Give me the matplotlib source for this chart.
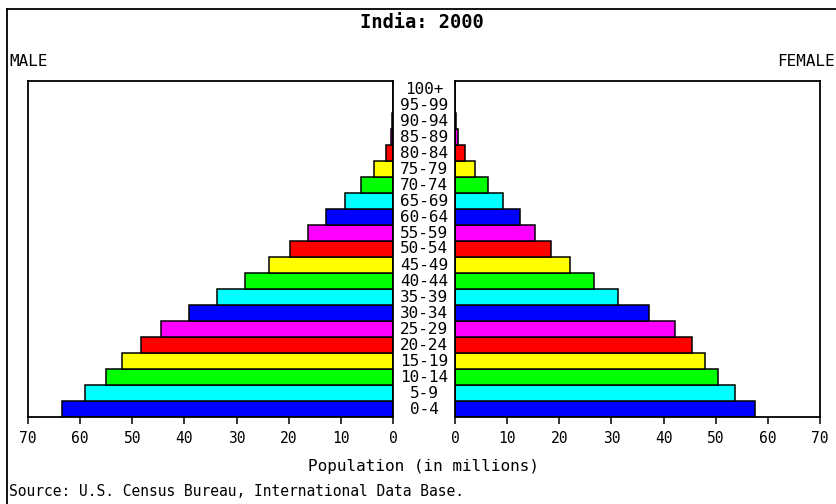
import matplotlib.pyplot as plt
from matplotlib.lines import Line2D
from matplotlib.transforms import blended_transform_factory

age_groups = ['0-4', '5-9', '10-14', '15-19', '20-24', '25-29', '30-34', '35-39',
              '40-44', '45-49', '50-54', '55-59', '60-64', '65-69', '70-74', '75-79',
              '80-84', '85-89', '90-94', '95-99', '100+']

male = [63.5, 59.0, 55.1, 51.9, 48.4, 44.5, 39.1, 33.7, 28.4, 23.7, 19.8,
        16.3, 12.8, 9.3, 6.1, 3.6, 1.3, 0.4, 0.1, 0.02, 0.0]
female = [57.6, 53.7, 50.5, 48.0, 45.4, 42.2, 37.2, 31.3, 26.6, 22.1, 18.5,
          15.4, 12.5, 9.2, 6.3, 3.8, 1.9, 0.6, 0.15, 0.03, 0.0]

cycle = ['#0000ff', '#00ffff', '#00ff00', '#ffff00', '#ff0000', '#ff00ff']
ticks = [0, 10, 20, 30, 40, 50, 60, 70]

W, H = 837, 504
mono = 'DejaVu Sans Mono'

fig = plt.figure(figsize=(W / 100, H / 100), dpi=100)
fig.patch.set_facecolor('white')


def fx(px):
    return px / W


def fy(py):
    return 1 - py / H


ax_l = fig.add_axes([fx(28), fy(417), fx(393) - fx(28), fy(81) - fy(417)])
ax_r = fig.add_axes([fx(455), fy(417), fx(820) - fx(455), fy(81) - fy(417)])

colors = [cycle[i % len(cycle)] for i in range(len(age_groups))]
pos = list(range(len(age_groups)))

ax_l.barh(pos, male, height=1.0, color=colors, edgecolor='black', linewidth=1.1)
ax_r.barh(pos, female, height=1.0, color=colors, edgecolor='black', linewidth=1.1)

for ax in (ax_l, ax_r):
    ax.set_ylim(-0.5, len(age_groups) - 0.5)
    ax.set_yticks([])
    ax.set_xticks(ticks)
    ax.set_xticklabels([str(t) for t in ticks], family=mono, fontsize=10.5)
    ax.tick_params(axis='x', direction='out', length=5, width=1.1, pad=5)
    for s in ax.spines.values():
        s.set_linewidth(1.3)
ax_l.set_xlim(70, 0)
ax_r.set_xlim(0, 70)

# age labels between the two halves
tr = blended_transform_factory(fig.transFigure, ax_l.transData)
for p, lab in zip(pos, age_groups):
    ax_l.text(fx(424), p, lab, transform=tr, ha='center', va='center',
              family=mono, fontsize=11.5, clip_on=False)

fig.text(fx(422), fy(22), 'India: 2000', ha='center', va='center',
         family=mono, fontsize=13.5, fontweight='bold')
fig.text(fx(9), fy(62), 'MALE', ha='left', va='center', family=mono, fontsize=11.5)
fig.text(fx(835), fy(62), 'FEMALE', ha='right', va='center', family=mono, fontsize=11.5)
fig.text(fx(424), fy(467), 'Population (in millions)', ha='center', va='center',
         family=mono, fontsize=11.5)
fig.text(fx(9), fy(491), 'Source: U.S. Census Bureau, International Data Base.',
         ha='left', va='center', family=mono, fontsize=10.5)

# outer frame
fig.add_artist(Line2D([fx(7), fx(7)], [fy(9), 0], color='black', linewidth=1.3))
fig.add_artist(Line2D([fx(7), 1], [fy(9), fy(9)], color='black', linewidth=1.3))

fig.savefig('out.png', dpi=100)
